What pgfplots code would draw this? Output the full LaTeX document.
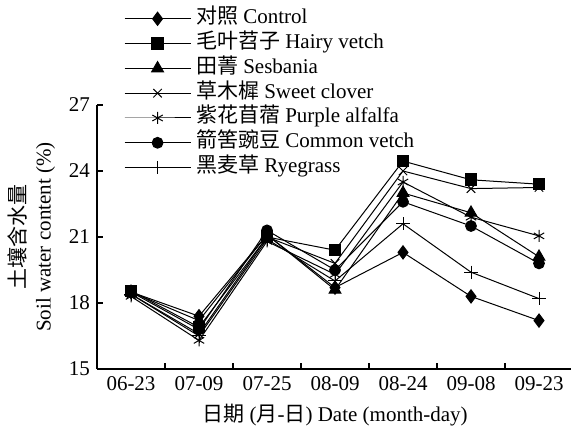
\documentclass[border=0pt]{standalone}
\usepackage{fontspec}
\setmainfont{Liberation Serif}
\newfontfamily\cjk{Noto Sans CJK SC}
\usepackage{pgfplots}
\pgfplotsset{compat=1.18}
\newcommand{\fs}{\fontsize{10.5pt}{12.5pt}\selectfont}
\begin{document}
\begin{tikzpicture}
\begin{axis}[
  at={(0,0)}, anchor=south west,
  scale only axis, width=238pt, height=132pt,
  xmin=-0.5, xmax=6.5, ymin=15, ymax=27,
  axis lines=left, axis line style={-, line width=0.6pt},
  xtick={0.5,1.5,...,5.5}, xticklabels={},
  extra x ticks={0,1,2,3,4,5,6},
  extra x tick labels={06-23,07-09,07-25,08-09,08-24,09-08,09-23},
  extra x tick style={major tick length=0pt},
  ytick={15,18,21,24,27},
  tick align=inside, major tick length=3pt,
  tick style={black, line width=0.6pt},
  /pgf/number format/assume math mode=true,
  tick label style={font=\fs},
  label style={font=\fs},
  xlabel={{\cjk 日期} ({\cjk 月}-{\cjk 日}) Date (month-day)},
  ylabel={{\cjk 土壤含水量}\\Soil water content (\%)},
  ylabel style={align=center},
  legend style={draw=none, fill=none, font=\fs, at={(0.056,1.375)}, anchor=north west,
    inner sep=0pt, row sep=0pt,
    nodes={inner sep=1pt, text height=7.65pt, text depth=2.75pt},
    /tikz/every odd column/.append style={column sep=1.5pt}},
  legend cell align=left,
  legend image code/.code={\draw[mark repeat=2,mark phase=2] plot coordinates {(0cm,0cm) (0.58cm,0cm) (1.16cm,0cm)};},
  every axis plot/.append style={black, line width=0.5pt, mark options={solid, line width=0.5pt}},
]
\addplot[mark=diamond*, mark size=3.3pt] coordinates {(0,18.5) (1,17.4) (2,21.1) (3,18.7) (4,20.3) (5,18.3) (6,17.2)};
\addlegendentry{{\cjk 对照} Control}
\addplot[mark=square*, mark size=2.9pt] coordinates {(0,18.55) (1,16.9) (2,21.0) (3,20.4) (4,24.45) (5,23.6) (6,23.4)};
\addlegendentry{{\cjk 毛叶苕子} Hairy vetch}
\addplot[mark=triangle*, mark size=3.4pt] coordinates {(0,18.5) (1,17.2) (2,21.1) (3,18.6) (4,23.0) (5,22.1) (6,20.1)};
\addlegendentry{{\cjk 田菁} Sesbania}
\addplot[mark=x, mark size=3pt] coordinates {(0,18.4) (1,16.6) (2,21.0) (3,19.8) (4,24.0) (5,23.2) (6,23.25)};
\addlegendentry{{\cjk 草木樨} Sweet clover}
\addplot[mark=asterisk, mark size=3pt] coordinates {(0,18.3) (1,16.3) (2,20.8) (3,19.3) (4,23.5) (5,21.9) (6,21.05)};
\addlegendentry{{\cjk 紫花苜蓿} Purple alfalfa}
\addplot[mark=*, mark size=2.7pt] coordinates {(0,18.5) (1,16.8) (2,21.3) (3,19.5) (4,22.6) (5,21.5) (6,19.8)};
\addlegendentry{{\cjk 箭筈豌豆} Common vetch}
\addplot[mark=+, mark size=3.3pt] coordinates {(0,18.4) (1,16.5) (2,20.9) (3,19.0) (4,21.6) (5,19.4) (6,18.2)};
\addlegendentry{{\cjk 黑麦草} Ryegrass}
\end{axis}
\pgfresetboundingbox
\path[use as bounding box] (-48.5pt,-28.5pt) rectangle (237pt,184.5pt);
\end{tikzpicture}
\end{document}
